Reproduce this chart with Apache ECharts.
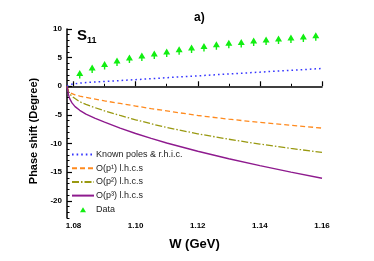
<!DOCTYPE html>
<html>
<head>
<meta charset="utf-8">
<script src="https://cdn.jsdelivr.net/npm/echarts@6/dist/echarts.min.js"></script>
<style>
html,body{margin:0;padding:0;background:#fff;}
#chart{width:374px;height:261px;}
</style>
</head>
<body>
<div id="chart"></div>
<script>
// Energy grid (GeV) for the theory curves
const W_LINE = [1.0779, 1.0781, 1.0784, 1.0788, 1.0795, 1.0805, 1.082, 1.084, 1.087, 1.09, 1.095, 1.10, 1.105, 1.11, 1.12, 1.13, 1.14, 1.15, 1.16];
const knownPoles = [0, 0.1, 0.2, 0.28, 0.37, 0.45, 0.55, 0.65, 0.75, 0.85, 1.0, 1.16, 1.32, 1.5, 1.82, 2.15, 2.47, 2.79, 3.1];
const lhcP1 = [0, -0.4, -0.8, -1.1, -1.3, -1.5, -1.72, -1.95, -2.25, -2.55, -3.0, -3.45, -3.9, -4.3, -5.1, -5.75, -6.3, -6.8, -7.3];
const lhcP2 = [0, -0.45, -0.95, -1.35, -1.75, -2.15, -2.7, -3.15, -3.75, -4.3, -5.1, -5.85, -6.55, -7.2, -8.3, -9.25, -10.1, -10.85, -11.55];
const lhcP3 = [0, -0.6, -1.5, -2.2, -2.9, -3.55, -4.2, -4.85, -5.6, -6.25, -7.3, -8.25, -9.1, -9.9, -11.35, -12.65, -13.85, -15.0, -16.05];

// Experimental data
const W_DATA = [1.082, 1.086, 1.090, 1.094, 1.098, 1.102, 1.106, 1.110, 1.114, 1.118, 1.122, 1.126, 1.130, 1.134, 1.138, 1.142, 1.146, 1.150, 1.154, 1.158];
const dataVals = [2.1, 3.04, 3.68, 4.27, 4.8, 5.15, 5.5, 5.85, 6.25, 6.55, 6.83, 7.13, 7.36, 7.53, 7.77, 7.95, 8.12, 8.3, 8.47, 8.7];

// Tick values / labels
const X_MAJOR = [1.08, 1.10, 1.12, 1.14, 1.16];
const X_MINOR = [1.09, 1.11, 1.13, 1.15];
const Y_MAJOR = [-20, -15, -10, -5, 0, 5, 10];
const Y_MINOR = [-23, -22, -21, -19, -18, -17, -16, -14, -13, -12, -11, -9, -8, -7, -6, -4, -3, -2, -1, 1, 2, 3, 4, 6, 7, 8, 9];
const X_RANGE = [1.0779, 1.16];
const Y_RANGE = [-23, 10];

const NAMES = ['Known poles & r.h.i.c.', 'O(p\u00B9) l.h.c.s', 'O(p\u00B2) l.h.c.s', 'O(p\u00B3) l.h.c.s', 'Data'];

const pair = (xs, ys) => xs.map((x, i) => [x, ys[i]]);
const FONT = "'Liberation Sans', Arial, sans-serif";
const GREEN = '#11ee11';

const chart = echarts.init(document.getElementById('chart'), null, {renderer: 'canvas'});

const lineSeries = (name, vals, color, type, width) => ({
  name, type: 'line', data: pair(W_LINE, vals), xAxisIndex: 0, yAxisIndex: 0,
  showSymbol: false, symbol: 'none', smooth: false,
  lineStyle: {color, width, type}, itemStyle: {color}, silent: true, animation: false
});

chart.setOption({
  animation: false,
  title: [
    {text: 'a)', left: 194, top: 12, padding: 0,
     textStyle: {fontFamily: FONT, fontSize: 12, fontWeight: 'bold', color: '#000'}},
    {text: '{a|S}{b|11}', left: 77, top: 28, padding: 0,
     textStyle: {rich: {
       a: {fontFamily: FONT, fontSize: 15, fontWeight: 'bold', color: '#000', verticalAlign: 'bottom'},
       b: {fontFamily: FONT, fontSize: 9, fontWeight: 'bold', color: '#000', verticalAlign: 'bottom', padding: [0, 0, -2, 0]}
     }}}
  ],
  grid: {left: 67, right: 52, top: 29, bottom: 43},
  legend: {
    orient: 'vertical', left: 71, top: 150, itemWidth: 22, itemHeight: 8, itemGap: 4.7,
    padding: 0,
    itemStyle: {opacity: 0},
    textStyle: {fontFamily: FONT, fontSize: 9, color: '#222', padding: [0, 0, 0, -3]},
    data: [
      {name: NAMES[0]}, {name: NAMES[1]}, {name: NAMES[2]}, {name: NAMES[3]},
      {name: NAMES[4], icon: 'path://M0,0 L0.01,0 L0,0.01 Z M22,8 L21.99,8 L22,7.99 Z M11,2 L14,7 L8,7 Z',
       itemStyle: {opacity: 1, color: GREEN}}
    ]
  },
  xAxis: [{
    type: 'value', min: X_RANGE[0], max: X_RANGE[1],
    name: 'W (GeV)', nameLocation: 'middle', nameGap: 20,
    nameTextStyle: {fontFamily: FONT, fontSize: 13, fontWeight: 'bold', color: '#000'},
    axisLine: {show: true, lineStyle: {color: '#000', width: 1.5}},
    axisTick: {show: true, inside: true, length: 5, customValues: X_MAJOR, lineStyle: {color: '#000', width: 1.2}},
    axisLabel: {customValues: X_MAJOR, margin: 4, fontFamily: FONT, fontSize: 8, fontWeight: 'bold', color: '#000',
      formatter: v => v.toFixed(2)},
    splitLine: {show: false}
  }, {
    type: 'value', min: X_RANGE[0], max: X_RANGE[1], position: 'bottom',
    axisLine: {show: false}, axisLabel: {show: false}, splitLine: {show: false},
    axisTick: {show: true, inside: true, length: 2.5, customValues: X_MINOR, lineStyle: {color: '#000', width: 1}}
  }],
  yAxis: [{
    type: 'value', min: Y_RANGE[0], max: Y_RANGE[1],
    name: 'Phase shift (Degree)', nameLocation: 'middle', nameGap: 24, nameRotate: 90,
    nameTextStyle: {fontFamily: FONT, fontSize: 11, fontWeight: 'bold', color: '#000', padding: [0, 15, 0, 0]},
    axisLine: {show: true, lineStyle: {color: '#000', width: 1.5}},
    axisTick: {show: true, inside: true, length: 5, customValues: Y_MAJOR, lineStyle: {color: '#000', width: 1.2}},
    axisLabel: {customValues: Y_MAJOR, margin: 5, fontFamily: FONT, fontSize: 8, fontWeight: 'bold', color: '#000'},
    splitLine: {show: false}
  }, {
    type: 'value', min: Y_RANGE[0], max: Y_RANGE[1], position: 'left',
    axisLine: {show: false}, axisLabel: {show: false}, splitLine: {show: false},
    axisTick: {show: true, inside: true, length: 2.5, customValues: Y_MINOR, lineStyle: {color: '#000', width: 1}}
  }],
  series: [
    lineSeries(NAMES[0], knownPoles, '#3535ff', [1.6, 3], 1.5),
    lineSeries(NAMES[1], lhcP1, '#ff8a1e', [5, 3], 1.3),
    lineSeries(NAMES[2], lhcP2, '#999911', [7, 2, 1.5, 2], 1.3),
    lineSeries(NAMES[3], lhcP3, '#8e1a8e', 'solid', 1.4),
    {
      name: NAMES[4], type: 'scatter', data: pair(W_DATA, dataVals),
      symbol: 'path://M4,0 L8,6 L0,6 Z M3.2,6 L4.8,6 L4.8,8.5 L3.2,8.5 Z',
      symbolSize: [7, 8.5], itemStyle: {color: GREEN, opacity: 1}, silent: true
    }
  ]
});
</script>
</body>
</html>
